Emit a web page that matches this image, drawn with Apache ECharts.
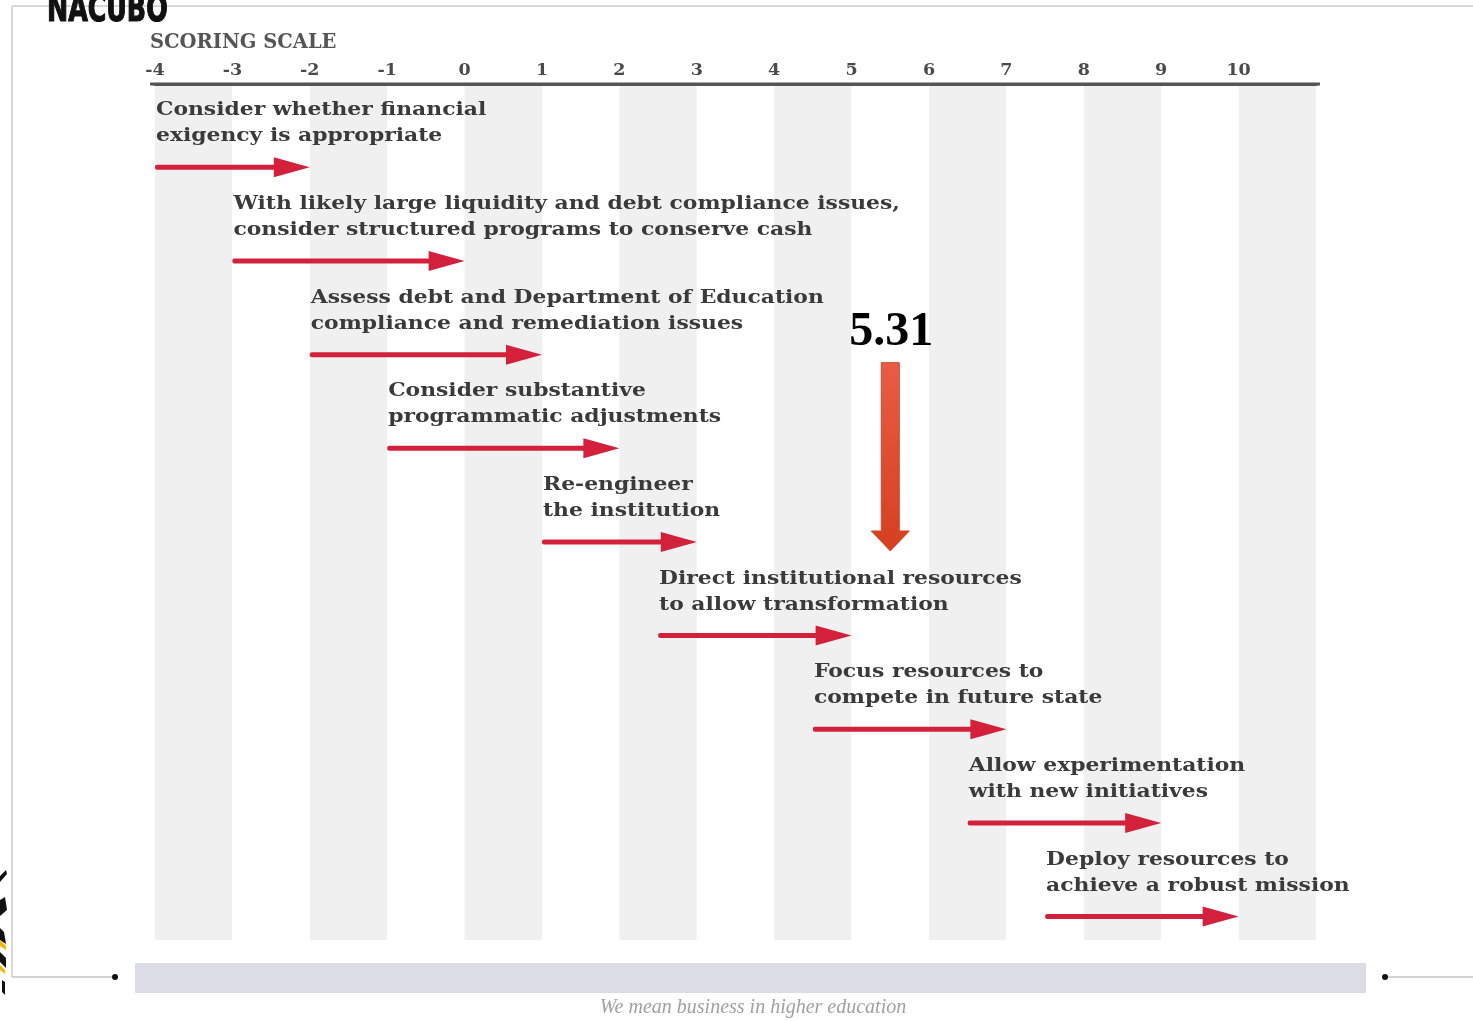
<!DOCTYPE html>
<html>
<head>
<meta charset="utf-8">
<title>Scoring scale</title>
<script src="https://cdn.jsdelivr.net/npm/echarts@6/dist/echarts.min.js"></script>
<style>
  html, body { margin: 0; padding: 0; background: #fff; }
  #main { width: 1473px; height: 1021px; }
</style>
</head>
<body>
<div id="main"></div>
<script>
// scale
var scaleMin = -4;
var scaleMax = 11;
var tickLabels = ['-4', '-3', '-2', '-1', '0', '1', '2', '3', '4', '5', '6', '7', '8', '9', '10'];

// recommended actions, one per row, with the score range the arrow covers
var taskLabels = [
    'Consider whether financial\nexigency is appropriate',
    'With likely large liquidity and debt compliance issues,\nconsider structured programs to conserve cash',
    'Assess debt and Department of Education\ncompliance and remediation issues',
    'Consider substantive\nprogrammatic adjustments',
    'Re-engineer\nthe institution',
    'Direct institutional resources\nto allow transformation',
    'Focus resources to\ncompete in future state',
    'Allow experimentation\nwith new initiatives',
    'Deploy resources to\nachieve a robust mission'
];
var taskStart = [-4, -3, -2, -1, 1, 2.5, 4.5, 6.5, 7.5];
var taskEnd = [-2, 0, 1, 2, 3, 5, 7, 9, 10];

// the school's score, and where the big arrow sits on the scale in the slide
var scoreLabel = '5.31';
var markerAt = 5.5;

var arrowColor = '#d3203b';
var slab = '"DejaVu Serif", "Liberation Serif", serif';

var taskData = taskLabels.map(function (t, i) {
    return [taskStart[i], taskEnd[i], i];
});

function renderTask(params, api) {
    var i = params.dataIndex;
    var s = api.coord([api.value(0), api.value(2)]);
    var e = api.coord([api.value(1), api.value(2)]);
    var head = 36, half = 10, th = 5;
    return {
        type: 'group',
        children: [
            {
                type: 'rect',
                shape: { x: s[0], y: s[1] - th / 2, width: e[0] - s[0] - head + 4, height: th, r: 2 },
                style: { fill: arrowColor }
            },
            {
                type: 'polygon',
                shape: { points: [[e[0] - head, s[1] - half], [e[0], s[1]], [e[0] - head, s[1] + half]] },
                style: { fill: arrowColor }
            },
            {
                type: 'text',
                x: s[0] + 1,
                y: s[1] - 18,
                scaleX: 1.15,
                style: {
                    text: taskLabels[i],
                    font: 'bold 19px ' + slab,
                    fill: '#3a3a3a',
                    verticalAlign: 'bottom',
                    lineHeight: 26
                }
            }
        ]
    };
}

function renderScore(params, api) {
    var top = api.coord([api.value(0), 2]);
    var tip = api.coord([api.value(0), 4]);
    var x = top[0];
    var y0 = top[1] + 8, y1 = tip[1] + 9;
    var shaftW = 18, headW = 38, headH = 20;
    var grad = new echarts.graphic.LinearGradient(0, 0, 0, 1, [
        { offset: 0, color: '#e85d44' },
        { offset: 1, color: '#d63f20' }
    ]);
    return {
        type: 'group',
        children: [
            {
                type: 'polygon',
                shape: {
                    points: [
                        [x - shaftW / 2, y0], [x + shaftW / 2, y0],
                        [x + shaftW / 2, y1 - headH], [x + headW / 2, y1 - headH],
                        [x, y1],
                        [x - headW / 2, y1 - headH], [x - shaftW / 2, y1 - headH]
                    ]
                },
                style: { fill: grad, stroke: '#d04a2e', lineWidth: 1 }
            },
            {
                type: 'text',
                x: x + 1,
                y: y0 - 6,
                style: {
                    text: scoreLabel,
                    font: 'bold 48px "Liberation Serif", serif',
                    fill: '#000',
                    align: 'center',
                    verticalAlign: 'bottom'
                }
            }
        ]
    };
}

var chart = echarts.init(document.getElementById('main'));

var option = {
    backgroundColor: '#fff',
    animation: false,
    title: {
        text: 'SCORING SCALE',
        left: 145,
        top: 28,
        textStyle: { fontFamily: slab, fontWeight: 'bold', fontSize: 19.5, color: '#555' }
    },
    grid: { left: 155, right: 157, top: 84, bottom: 81 },
    xAxis: {
        type: 'value',
        position: 'top',
        min: scaleMin,
        max: scaleMax,
        interval: 1,
        axisLine: { onZero: false, lineStyle: { color: '#555', width: 3 } },
        axisTick: { show: false },
        splitLine: { show: false },
        splitArea: { show: true, areaStyle: { color: ['#f0f0f0', '#ffffff'] } },
        axisLabel: {
            margin: 5,
            fontFamily: slab,
            fontWeight: 'bold',
            fontSize: 17.5,
            color: '#4a4a4a',
            formatter: function (v) {
                var k = Math.round(v - scaleMin);
                return tickLabels[k] !== undefined ? tickLabels[k] : '';
            }
        }
    },
    yAxis: {
        type: 'value',
        min: -0.89,
        max: 8.25,
        inverse: true,
        show: false
    },
    series: [
        {
            type: 'custom',
            renderItem: renderTask,
            data: taskData,
            encode: { x: [0, 1], y: 2 },
            clip: false
        },
        {
            type: 'custom',
            renderItem: renderScore,
            data: [[markerAt]],
            encode: { x: 0 },
            clip: false,
            z: 5
        }
    ],
    graphic: [
        // frame
        { type: 'line', shape: { x1: 12, y1: 6, x2: 1473, y2: 6 }, style: { stroke: '#d8d8d8', lineWidth: 2 }, silent: true },
        { type: 'line', shape: { x1: 12, y1: 6, x2: 12, y2: 977 }, style: { stroke: '#d8d8d8', lineWidth: 2 }, silent: true },
        // axis line runs a little past the stripes
        { type: 'line', shape: { x1: 150, y1: 84, x2: 1320, y2: 84 }, style: { stroke: '#555', lineWidth: 3 }, silent: true },
        {
            type: 'text', x: 47, y: 30, scaleX: 0.74,
            style: {
                text: 'NACUBO',
                font: 'bold 38px "DejaVu Sans Condensed", sans-serif',
                fill: '#111', stroke: '#111', lineWidth: 1.2,
                verticalAlign: 'bottom'
            }
        },
        // edge of a logo at the left border
        { type: 'polygon', shape: { points: [[0, 876], [6, 870], [7, 874], [0, 882]] }, style: { fill: '#111' } },
        { type: 'polygon', shape: { points: [[0, 900], [5, 897], [7, 910], [0, 916]] }, style: { fill: '#111' } },
        { type: 'polygon', shape: { points: [[0, 928], [4, 932], [6, 944], [0, 940]] }, style: { fill: '#111' } },
        { type: 'polygon', shape: { points: [[0, 940], [6, 946], [6, 950], [0, 946]] }, style: { fill: '#f2b705' } },
        { type: 'polygon', shape: { points: [[0, 952], [6, 958], [6, 968], [0, 962]] }, style: { fill: '#111' } },
        { type: 'polygon', shape: { points: [[0, 965], [5, 970], [5, 974], [0, 970]] }, style: { fill: '#f2b705' } },
        { type: 'polygon', shape: { points: [[2, 980], [5, 982], [5, 995], [2, 992]] }, style: { fill: '#111' } },
        // footer
        { type: 'line', shape: { x1: 12, y1: 977, x2: 115, y2: 977 }, style: { stroke: '#aaa', lineWidth: 1 } },
        { type: 'circle', shape: { cx: 115, cy: 977, r: 3 }, style: { fill: '#111' } },
        { type: 'rect', shape: { x: 135, y: 963, width: 1231, height: 30 }, style: { fill: '#dcdce6' } },
        { type: 'line', shape: { x1: 1385, y1: 977, x2: 1473, y2: 977 }, style: { stroke: '#aaa', lineWidth: 1 } },
        { type: 'circle', shape: { cx: 1385, cy: 977, r: 3 }, style: { fill: '#111' } },
        {
            type: 'text', x: 753, y: 1008,
            style: {
                text: 'We mean business in higher education',
                font: 'italic 20px "Liberation Serif", serif',
                fill: '#a0a0a0',
                align: 'center',
                verticalAlign: 'middle'
            }
        }
    ]
};

chart.setOption(option);
</script>
</body>
</html>
